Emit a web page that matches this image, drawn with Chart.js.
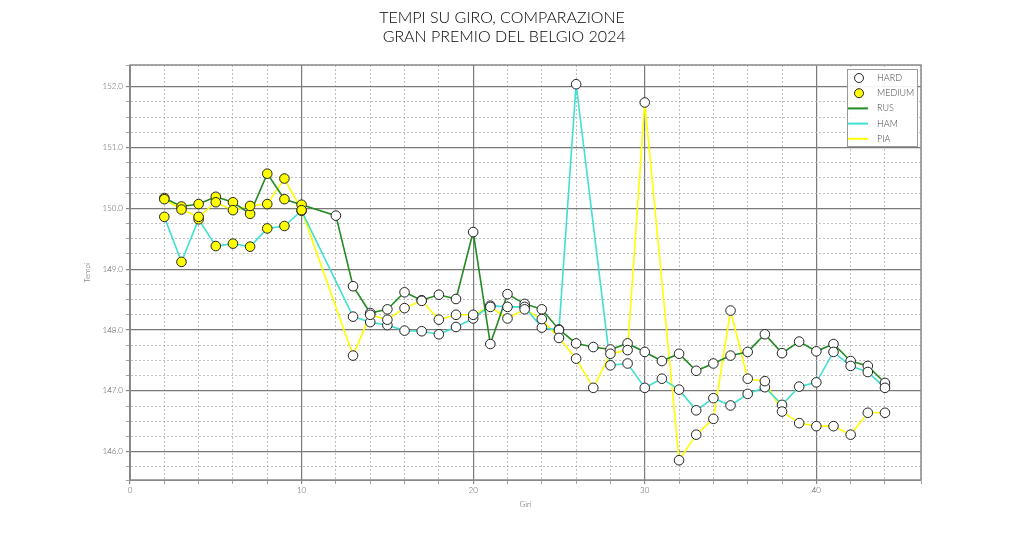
<!DOCTYPE html>
<html>
<head>
<meta charset="utf-8">
<script src="https://cdn.jsdelivr.net/npm/chart.js@4.4.1/dist/chart.umd.min.js"></script>
<style>
  body { margin: 0; background: #fff; }
  #wrap { width: 1024px; height: 539px; }
</style>
</head>
<body>
<div id="wrap"><canvas id="grafico" width="1024" height="539"></canvas></div>
<script>
// giri e tempi (secondi); null = giro non registrato (pit)
const giri = [2, 3, 4, 5, 6, 7, 8, 9, 10, 11, 12, 13, 14, 15, 16, 17, 18, 19, 20, 21, 22, 23,
  24, 25, 26, 27, 28, 29, 30, 31, 32, 33, 34, 35, 36, 37, 38, 39, 40, 41, 42, 43, 44]

const tempiRUS = [150.17, 150.03, 150.07, 150.19, 150.10, 149.91, 150.57, 150.15, 150.06, null, 149.88,
  148.72, 148.28, 148.34, 148.62, 148.49, 148.58, 148.51, 149.61, 147.77, 148.59, 148.43,
  148.34, 148.01, 147.78, 147.72, 147.68, 147.78, 147.64, 147.49, 147.61, 147.33, 147.45,
  147.58, 147.64, 147.93, 147.62, 147.81, 147.65, 147.77, 147.49, 147.41, 147.13]

const tempiHAM = [149.86, 149.12, 149.82, 149.38, 149.42, 149.37, 149.67, 149.71, 149.96, null, null,
  148.22, 148.13, 148.08, 147.99, 147.98, 147.93, 148.05, 148.19, 148.40, 148.38, 148.38,
  148.04, 148.00, 152.04, null, 147.42, 147.45, 147.05, 147.20, 147.02, 146.68, 146.88,
  146.76, 146.95, 147.06, 146.77, 147.07, 147.14, 147.64, 147.41, 147.31, 147.05]

const tempiPIA = [150.15, 149.98, 149.86, 150.10, 149.97, 150.04, 150.07, 150.49, 149.97, null, null,
  147.58, 148.25, 148.17, 148.36, 148.48, 148.17, 148.25, 148.25, 148.38, 148.19, 148.34,
  148.18, 147.87, 147.53, 147.05, 147.61, 147.67, 151.74, null, 145.86, 146.28, 146.54,
  148.32, 147.20, 147.16, 146.66, 146.47, 146.42, 146.42, 146.28, 146.64, 146.64]

// primo stint su MEDIUM fino al giro 10, poi tutti su HARD
const ultimoGiroMedium = 10

const piloti = [
  { nome: "RUS", tempi: tempiRUS, colore: "#228b22" },
  { nome: "HAM", tempi: tempiHAM, colore: "#40e0d0" },
  { nome: "PIA", tempi: tempiPIA, colore: "#ffff00" }
]

const punti = (tempi) => giri.map((g, i) => ({ x: g, y: tempi[i] }))

let hard = [], medium = []
piloti.forEach(p => {
  punti(p.tempi).forEach(pt => {
    if (pt.y === null) return
    if (pt.x <= ultimoGiroMedium) medium.push(pt)
    else hard.push(pt)
  })
})

const FONT = "Lato, 'DejaVu Sans', sans-serif"
const isMajor = (v, step) => Math.abs(v / step - Math.round(v / step)) < 1e-6

// legenda dentro l'area del grafico, in alto a destra
const legendaInterna = {
  id: "legendaInterna",
  afterDraw(chart) {
    const ctx = chart.ctx
    const area = chart.chartArea
    const x0 = area.right - 74, y0 = area.top + 4
    ctx.save()
    ctx.fillStyle = "rgba(255,255,255,0.9)"
    ctx.fillRect(x0, y0, 70, 77)
    ctx.strokeStyle = "#9a9a9a"
    ctx.lineWidth = 1
    ctx.strokeRect(x0 + 0.5, y0 + 0.5, 70, 77)
    ctx.font = "300 9px " + FONT
    ctx.textBaseline = "middle"
    chart.data.datasets.forEach((ds, i) => {
      const y = y0 + 9 + i * 15.2
      if (ds.type === "scatter") {
        ctx.beginPath()
        ctx.arc(x0 + 12, y, 4.5, 0, Math.PI * 2)
        ctx.fillStyle = ds.backgroundColor
        ctx.fill()
        ctx.strokeStyle = "#222"
        ctx.stroke()
      } else {
        ctx.beginPath()
        ctx.moveTo(x0 + 1, y)
        ctx.lineTo(x0 + 21, y)
        ctx.strokeStyle = ds.borderColor
        ctx.lineWidth = 2
        ctx.stroke()
        ctx.lineWidth = 1
      }
      ctx.fillStyle = "#444"
      ctx.fillText(ds.label, x0 + 30, y)
    })
    ctx.restore()
  }
}

// cornice attorno all'area del grafico
const cornice = {
  id: "cornice",
  afterDatasetsDraw(chart) {
    const { ctx, chartArea: a } = chart
    ctx.save()
    ctx.strokeStyle = "#8a8a8a"
    ctx.lineWidth = 1.5
    ctx.strokeRect(a.left, a.top, a.right - a.left, a.bottom - a.top)
    ctx.restore()
  }
}

const griglia = (step) => ({
  color: c => (c.tick && isMajor(c.tick.value, step)) ? "#7a7a7a" : "#b0b0b0",
  lineWidth: c => (c.tick && isMajor(c.tick.value, step)) ? 1.2 : 0.8,
  tickColor: "#888",
  tickLength: 4
})

const bordo = (step) => ({
  display: true,
  color: "#8a8a8a",
  dash: c => (c.tick && !isMajor(c.tick.value, step)) ? [2, 2] : []
})

let datasets = [
  { type: "scatter", label: "HARD", data: hard, backgroundColor: "#ffffff", borderColor: "#222",
    borderWidth: 1, pointRadius: 4.8, pointHoverRadius: 4.8 },
  { type: "scatter", label: "MEDIUM", data: medium, backgroundColor: "#ffff00", borderColor: "#222",
    borderWidth: 1, pointRadius: 4.8, pointHoverRadius: 4.8 }
]
piloti.forEach(p => {
  datasets.push({
    type: "line", label: p.nome, data: punti(p.tempi), borderColor: p.colore,
    borderWidth: 1.6, pointRadius: 0, spanGaps: true, tension: 0
  })
})

new Chart(document.getElementById("grafico"), {
  data: { datasets: datasets },
  options: {
    responsive: false,
    animation: false,
    layout: { padding: { left: 83, right: 103, top: 0, bottom: 30 } },
    plugins: {
      legend: { display: false },
      tooltip: { enabled: false },
      title: {
        display: true,
        text: ["TEMPI SU GIRO, COMPARAZIONE", " GRAN PREMIO DEL BELGIO 2024"],
        color: "#000",
        font: { family: FONT, size: 16, weight: 300, lineHeight: 1.2 },
        padding: { top: 8, bottom: 18.6 }
      }
    },
    scales: {
      x: {
        type: "linear",
        min: 0,
        max: 46.1,
        afterFit: s => { s.height = 29 },
        ticks: {
          stepSize: 2,
          autoSkip: false,
          maxRotation: 0,
          padding: 2,
          color: "#555",
          font: { family: FONT, size: 8, weight: 300 },
          callback: v => isMajor(v, 10) ? String(v) : ""
        },
        grid: griglia(10),
        border: bordo(10),
        title: { display: true, text: "Giri", color: "#555", font: { family: FONT, size: 8, weight: 300 }, padding: 0 }
      },
      y: {
        min: 145.535,
        max: 152.356,
        afterFit: s => { s.width = 47 },
        ticks: {
          stepSize: 0.25,
          autoSkip: false,
          padding: 3,
          color: "#555",
          font: { family: FONT, size: 8, weight: 300 },
          callback: v => isMajor(v, 1) ? v.toFixed(1) : ""
        },
        grid: griglia(1),
        border: bordo(1),
        title: { display: true, text: "Tempi", color: "#555", font: { family: FONT, size: 8, weight: 300 }, padding: 0 }
      }
    }
  },
  plugins: [cornice, legendaInterna]
})
</script>
</body>
</html>
